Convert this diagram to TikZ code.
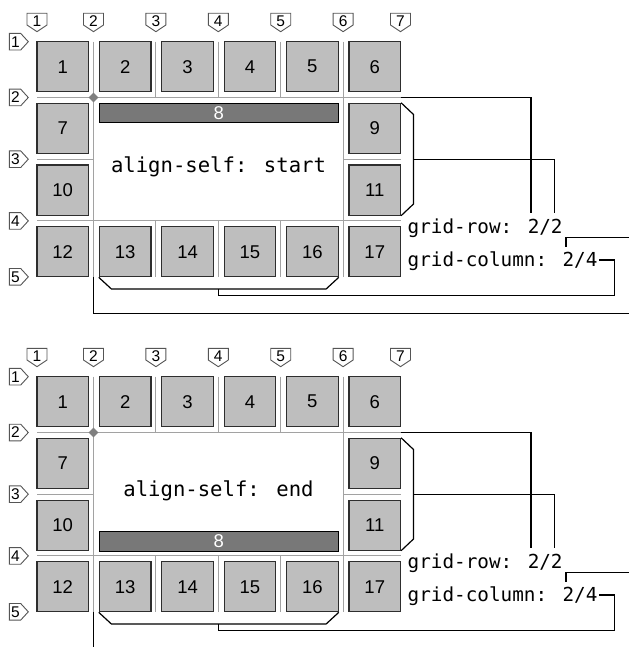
\documentclass[tikz,border=0pt]{standalone}
\usepackage{fontspec}
\setmainfont{Liberation Sans}
\newfontfamily\codefont{DejaVu Sans Mono}
\usetikzlibrary{calc, positioning, shapes.geometric}
\definecolor{cellfill}{HTML}{BEBEBE}
\definecolor{areafill}{HTML}{787878}
\definecolor{gridgray}{HTML}{A2A2A2}
\definecolor{edgedark}{HTML}{2E2E2E}
\definecolor{tagedge}{HTML}{555555}

\begin{document}
\begin{tikzpicture}[x=1pt, y=-1pt,
		cell/.style={draw=edgedark, fill=cellfill, line width=1.2pt, minimum width=51.5pt, minimum height=50pt, inner sep=0pt, font=\fontsize{18.5}{20}\selectfont},
		bar/.style={draw=black, fill=areafill, text=white, line width=1.2pt, minimum width=238.7pt, minimum height=19.4pt, inner sep=0pt, font=\fontsize{18.5}{20}\selectfont},
		gline/.style={draw=gridgray, line width=1.1pt},
		conn/.style={draw=black, line width=1.2pt},
		tag/.style={draw=tagedge, fill=white, line width=0.9pt},
		tagnum/.style={inner sep=0pt, font=\fontsize{15.5}{16}\selectfont},
		code/.style={inner sep=0pt, font=\codefont\fontsize{19.3}{22}\selectfont},
		corner/.style={diamond, fill=gray, inner sep=0pt, minimum size=10pt}
	]
	\useasboundingbox (0,0) rectangle (629,647);
	\clip (0,0) rectangle (629,647);
	\foreach \d/\oy/\by/\ty/\al in {a/0/113/172.7/start, b/335/541.5/496.7/end} {
			\foreach \x in {93.5, 155.9, 218.3, 280.7, 343.1}
			\draw[gline] (\x, 41.7+\oy) -- (\x, 276.8+\oy);
			\foreach \y in {97.5, 159.2, 220.9}
			\draw[gline] (37, \y+\oy) -- (400.5, \y+\oy);
			\draw[gline, fill=white] (93.5, 97.5+\oy) rectangle (343.1, 220.9+\oy);

			\foreach \c/\x in {1/37, 2/93.5, 3/155.9, 4/218.3, 5/280.7, 6/343.1, 7/400.5} {
					\draw[tag] (\x-10, 13.3+\oy) -- ++(20,0) -- ++(0,11.7) -- ++(-10,6.7) -- ++(-10,-6.7) -- cycle;
					\node[tagnum] (col\c\d) at (\x, 20.8+\oy) {\c};
				}
			\foreach \r/\y in {1/41.7, 2/97.5, 3/159.2, 4/220.9, 5/276.8} {
					\draw[tag] (9.3, \y-8.3+\oy) -- ++(11.4,0) -- ++(7.6,8.3) -- ++(-7.6,8.3) -- ++(-11.4,0) -- cycle;
					\node[tagnum] (row\r\d) at (15.5, \y+\oy) {\r};
				}

			\foreach \n/\c/\r in {1/1/1, 2/2/1, 3/3/1, 4/4/1, 5/5/1, 6/6/1, 7/1/2, 9/6/2, 10/1/3, 11/6/3, 12/1/4, 13/2/4, 14/3/4, 15/4/4, 16/5/4, 17/6/4}
			\node[cell] (\d\n) at (62.75+\c*62.4-62.4, 66.7+\r*61.7-61.7+\oy) {\n};
			\node[bar] (\d8) at (218.75, \by) {8};
			\node[code, anchor=base, font=\codefont\fontsize{20.6}{22}\selectfont] (self\d) at (218.5, \ty) {align-self: \al};

			\draw[conn] (\d9.north east) -- ++(12.4,11.7) -- ($(\d11.south east)+(12.4,-11.7)$) -- (\d11.south east);
			\coordinate (rb\d) at ($(\d9.north east)!0.5!(\d11.south east)+(12.4,0)$);
			\draw[conn] (\d13.south west) -- ++(12.5,11.5) -- ($(\d16.south east)+(-12.5,11.5)$) -- (\d16.south east);
			\coordinate (bb\d) at ($(\d13.south west)!0.5!(\d16.south east)+(0,11.5)$);

			\node[code, anchor=base west] (gr\d) at (407.5, 233+\oy) {grid-row: 2/2};
			\node[code, anchor=base west] (gc\d) at (407.5, 266.7+\oy) {grid-column: 2/4};
			\coordinate (gra\d) at ($(gr\d.base west)+(123.5,-20)$);
			\coordinate (grb\d) at ($(gr\d.base west)+(147,-20)$);
			\coordinate (gca\d) at ($(gc\d.base west)+(158.5,-20)$);
			\coordinate (gcb\d) at ($(gc\d.base west)+(191.5,-6.7)$);
			\coordinate (line2\d) at (400.5, 97.5+\oy);
			\coordinate (col2\d) at (93.5, 276.8+\oy);
			\coordinate (ea\d) at (629, 237.3+\oy);
			\coordinate (eb\d) at (629, 313.3+\oy);

			\draw[conn] (line2\d) -| (gra\d);
			\draw[conn] (rb\d) -| (grb\d);
			\draw[conn] (gcb\d) -- ++(15.5,0) |- ($(bb\d)+(0,6.4)$) -- (bb\d);
			\draw[conn] (gca\d) |- (ea\d);
			\draw[conn] (col2\d) |- (eb\d);

			\node[corner] (corner\d) at (93.5, 97.5+\oy) {};
		}
\end{tikzpicture}
\end{document}
